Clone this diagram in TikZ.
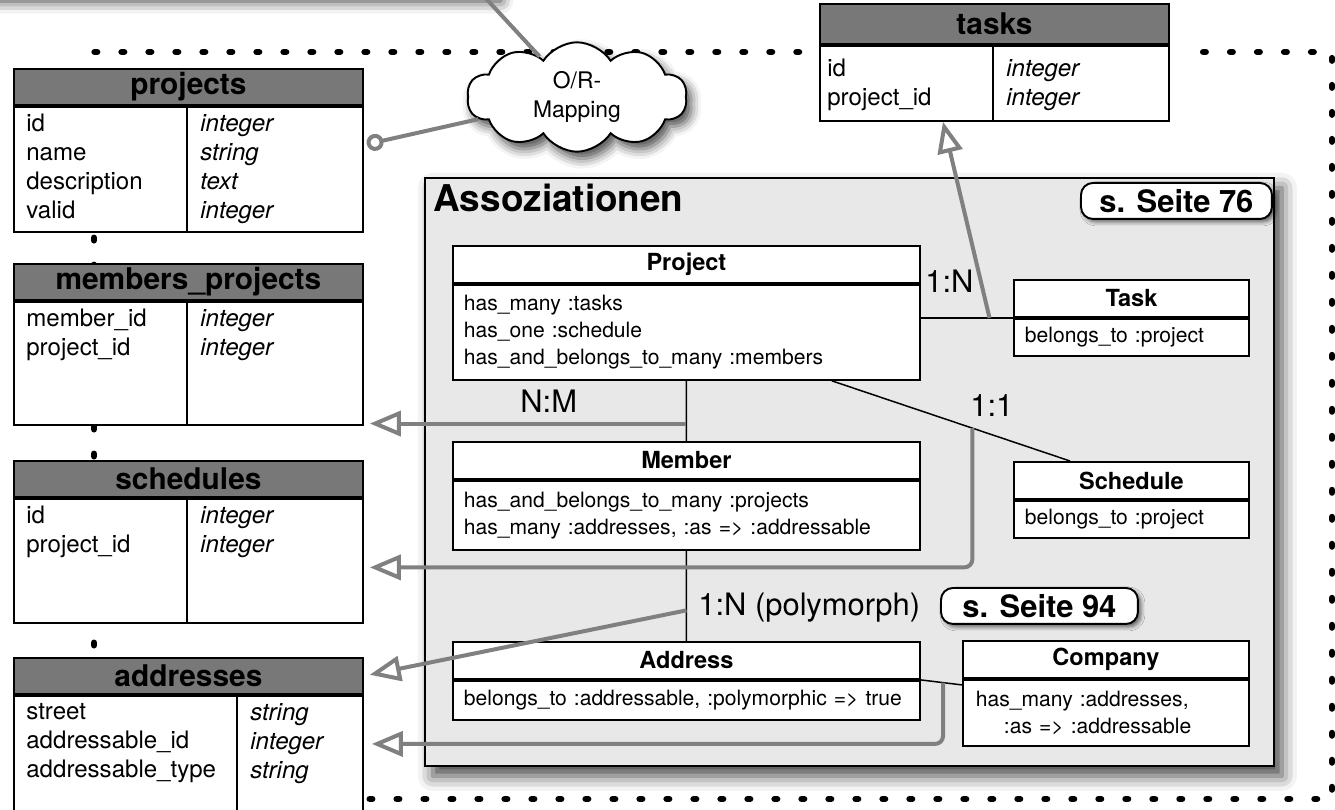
\documentclass[tikz,border=0pt]{standalone}
\usepackage{fontspec}
\setmainfont{TeX Gyre Heros}
\usetikzlibrary{arrows.meta,calc,shapes.symbols,shadows.blur}
\definecolor{headgray}{RGB}{120,120,120}
\definecolor{boxgray}{RGB}{232,232,232}
\definecolor{linkgray}{RGB}{128,128,128}

\begin{document}
\begin{tikzpicture}[
  x=0.02cm, y=-0.02cm,
  tblhead/.style={draw, line width=1.1pt, fill=headgray, anchor=north west,
    minimum width=6.98cm, minimum height=0.72cm, inner sep=0pt,
    font=\bfseries\fontsize{17}{20}\selectfont},
  tblbody/.style={draw, line width=1.1pt, fill=white, anchor=north west,
    minimum width=6.98cm, inner sep=0pt},
  tblline/.style={line width=1.1pt},
  tbltext/.style={anchor=north west, align=left, inner sep=0pt,
    font=\fontsize{13.7}{16.5}\selectfont},
  tbltype/.style={tbltext, font=\itshape\fontsize{13.7}{16.5}\selectfont},
  clshead/.style={draw, line width=1.1pt, fill=white, anchor=north west,
    minimum height=0.74cm, inner sep=0pt,
    font=\bfseries\fontsize{13.4}{16}\selectfont},
  clsbody/.style={draw, line width=1.1pt, fill=white, anchor=north west,
    inner xsep=0.22cm, inner ysep=0pt, align=left,
    font=\fontsize{12}{15.4}\selectfont},
  rel/.style={line width=0.85pt},
  lbl/.style={anchor=base west, inner sep=0pt, font=\fontsize{17.6}{20}\selectfont},
  seite/.style={draw, line width=1.1pt, fill=white, anchor=north west,
    rounded corners=0.24cm, minimum height=0.72cm, inner sep=0pt,
    font=\bfseries\fontsize{17.6}{20}\selectfont,
    blur shadow={shadow xshift=0.06cm, shadow yshift=-0.06cm, shadow blur radius=0.08cm, shadow opacity=60}},
  maplink/.style={draw=linkgray, line width=0.08cm},
  opentip/.style={-{Triangle[open, length=0.62cm, width=0.5cm]}},
  dotframe/.style={line width=0.13cm, line cap=round, dash pattern=on 0.05cm off 0.49cm}
  ]
  \useasboundingbox (0,0) rectangle (1335,810);
  \clip (0,0) rectangle (1335,810);

  \node[draw, line width=1.1pt, fill=white, anchor=south west, minimum width=10.3cm,
    minimum height=1cm, blur shadow={shadow xshift=0.1cm, shadow yshift=-0.16cm,
    shadow blur radius=0.25cm, shadow opacity=80}] (spec) at (-20,-6) {};

  \draw[dotframe] (799,52) -- (94,52) -- (94,799) -- (1332,799) -- (1332,52) -- (1186,52);

  \node[tblhead] (tprojects) at (13,68) {projects};
  \node[tblbody, minimum height=2.5cm] (tprojects-b) at (tprojects.south west) {};
  \draw[tblline] ($(tprojects-b.north west)+(174,0)$) -- ($(tprojects-b.south west)+(174,0)$);
  \node[tbltext] (tprojects-n) at ($(tprojects-b.north west)+(13,8)$) {id\\name\\description\\valid};
  \node[tbltype] (tprojects-t) at ($(tprojects-b.north west)+(187,8)$) {integer\\string\\text\\integer};

  \node[tblhead] (tmp) at (13,263) {members\_projects};
  \node[tblbody, minimum height=2.46cm] (tmp-b) at (tmp.south west) {};
  \draw[tblline] ($(tmp-b.north west)+(174,0)$) -- ($(tmp-b.south west)+(174,0)$);
  \node[tbltext] (tmp-n) at ($(tmp-b.north west)+(13,8)$) {member\_id\\project\_id};
  \node[tbltype] (tmp-t) at ($(tmp-b.north west)+(187,8)$) {integer\\integer};

  \node[tblhead] (tschedules) at (13,460) {schedules};
  \node[tblbody, minimum height=2.48cm] (tschedules-b) at (tschedules.south west) {};
  \draw[tblline] ($(tschedules-b.north west)+(174,0)$) -- ($(tschedules-b.south west)+(174,0)$);
  \node[tbltext] (tschedules-n) at ($(tschedules-b.north west)+(13,8)$) {id\\project\_id};
  \node[tbltype] (tschedules-t) at ($(tschedules-b.north west)+(187,8)$) {integer\\integer};

  \node[tblhead] (taddresses) at (13,657) {addresses};
  \node[tblbody, minimum height=3.14cm] (taddresses-b) at (taddresses.south west) {};
  \draw[tblline] ($(taddresses-b.north west)+(224,0)$) -- ($(taddresses-b.south west)+(224,0)$);
  \node[tbltext] (taddresses-n) at ($(taddresses-b.north west)+(13,8)$) {street\\addressable\_id\\addressable\_type};
  \node[tbltype] (taddresses-t) at ($(taddresses-b.north west)+(237,8)$) {string\\integer\\string};

  \node[tblhead, minimum height=0.8cm] (ttasks) at (819,3) {tasks};
  \node[tblbody, minimum height=1.5cm] (ttasks-b) at (ttasks.south west) {};
  \draw[tblline] ($(ttasks-b.north west)+(174,0)$) -- ($(ttasks-b.south west)+(174,0)$);
  \node[tbltext] (ttasks-n) at ($(ttasks-b.north west)+(8,14)$) {id\\project\_id};
  \node[tbltype] (ttasks-t) at ($(ttasks-b.north west)+(187,14)$) {integer\\integer};

  \node[cloud, draw, line width=1.1pt, fill=white, cloud puffs=10, cloud puff arc=115,
    cloud ignores aspect, minimum width=4.4cm, minimum height=1.65cm, align=center,
    font=\fontsize{13}{17}\selectfont,
    blur shadow={shadow xshift=0.1cm, shadow yshift=-0.14cm, shadow blur radius=0.2cm, shadow opacity=70}]
    (mapping) at (577,97) {O/R-\\Mapping};

  \node[draw, line width=1.1pt, fill=boxgray, anchor=north west, minimum width=16.98cm,
    minimum height=11.76cm, inner sep=0pt,
    blur shadow={shadow xshift=0.16cm, shadow yshift=-0.2cm, shadow blur radius=0.3cm, shadow opacity=75}]
    (assoc) at (424,177) {};
  \node[anchor=base west, inner sep=0pt, font=\bfseries\fontsize{21}{24}\selectfont]
    (assoctitle) at (433,212) {Assoziationen};
  \node[seite, minimum width=3.82cm] (seite76) at (1080,182) {s. Seite 76};

  \node[clshead, minimum width=9.34cm] (cproject) at (452,245) {Project};
  \node[clsbody, text width=8.9cm, minimum height=1.9cm] (cproject-b) at (cproject.south west)
    {has\_many :tasks\\has\_one :schedule\\has\_and\_belongs\_to\_many :members};

  \node[clshead, minimum width=4.7cm] (ctask) at (1013,279) {Task};
  \node[clsbody, text width=4.26cm, minimum height=0.74cm] (ctask-b) at (ctask.south west)
    {belongs\_to :project};

  \node[clshead, minimum width=9.34cm] (cmember) at (452,441) {Member};
  \node[clsbody, text width=8.9cm, minimum height=1.38cm] (cmember-b) at (cmember.south west)
    {has\_and\_belongs\_to\_many :projects\\has\_many :addresses, :as => :addressable};

  \node[clshead, minimum width=4.7cm] (cschedule) at (1013,461) {Schedule};
  \node[clsbody, text width=4.26cm, minimum height=0.74cm] (cschedule-b) at (cschedule.south west)
    {belongs\_to :project};

  \node[clshead, minimum width=9.34cm] (caddress) at (452,641) {Address};
  \node[clsbody, text width=8.9cm, minimum height=0.78cm] (caddress-b) at (caddress.south west)
    {belongs\_to :addressable, :polymorphic => true};

  \node[clshead, minimum width=5.72cm] (ccompany) at (962,640) {Company};
  \node[clsbody, inner xsep=0.26cm, text width=5.2cm, minimum height=1.32cm] (ccompany-b) at (ccompany.south west)
    {has\_many :addresses,\\\hspace*{0.56cm}:as => :addressable};

  \draw[rel] (cproject-b.east |- ctask-b.north west) -- coordinate[pos=0.745] (pt) (ctask-b.north west);
  \draw[rel] (cproject-b.south) -- coordinate[pos=0.71] (pm) (cmember.north);
  \draw[rel] ($(cproject-b.south east)+(-89,0)$) -- coordinate[pos=0.59] (ps) ($(cschedule.north west)+(57,0)$);
  \draw[rel] (cmember-b.south) -- coordinate[pos=0.66] (ma) (caddress.north);
  \draw[rel] (caddress-b.north east) -- coordinate[pos=0.54] (ac) ($(ccompany-b.north west)+(0,6)$);

  \node[lbl] (l1n) at (925,293) {1:N};
  \node[lbl] (lnm) at (520,413) {N:M};
  \node[lbl] (l11) at (970,417) {1:1};
  \node[lbl] (lpoly) at (698,615) {1:N (polymorph)};
  \node[seite, minimum width=3.94cm] (seite94) at (940,587) {s. Seite 94};

  \draw[maplink] ([xshift=-0.3cm]spec.south east) -- (mapping);
  \draw[maplink, -{Circle[open, length=0.34cm]}, shorten >=0.06cm] (mapping) -- ($(tprojects-b.north east)+(0,39)$);
  \draw[maplink, opentip] (pt) -- ($(ttasks-b.south west)+(124,0)$);
  \draw[maplink, opentip, shorten >=0.12cm] (pm) -- (pm -| tmp-b.east);
  \draw[maplink, opentip, shorten >=0.12cm, rounded corners=0.16cm] (ps) |- ([yshift=-0.13cm]tschedules-b.east);
  \draw[maplink, opentip, shorten >=0.12cm] (ma) -- (taddresses.east);
  \draw[maplink, opentip, shorten >=0.16cm, rounded corners=0.16cm] (ac) |- ($(taddresses-b.north east)+(0,49)$);
\end{tikzpicture}
\end{document}
